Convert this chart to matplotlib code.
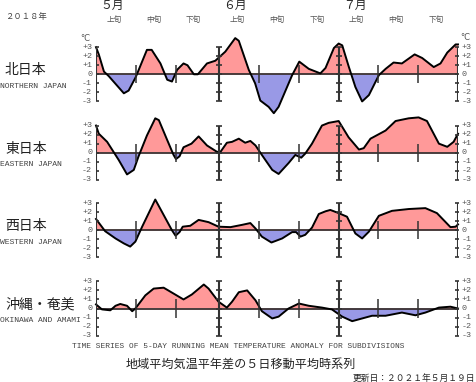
import matplotlib
matplotlib.use('Agg')
import matplotlib.pyplot as plt
import matplotlib.transforms as mtransforms

plt.rcParams['font.family'] = ['Noto Sans CJK JP', 'DejaVu Sans']

# days counted from May 1 (=0) to Jul 31 (=91), year 2018
month_labels = ['５月', '６月', '７月']
month_starts = [0, 31, 61]
last_day = 91
dekad_labels = ['上旬', '中旬', '下旬']

region_names = ['北日本', '東日本', '西日本', '沖縄・奄美']
region_names_en = ['NORTHERN JAPAN', 'EASTERN JAPAN', 'WESTERN JAPAN', 'OKINAWA AND AMAMI']

north_days = [0, 0.7, 2, 3.2, 7, 8.2, 10, 12.8, 14, 16.2, 17.9, 19.1, 20.4, 22, 23, 24.6, 25.6,
              27.9, 30, 32.5, 35, 35.9, 38.4, 40, 41.3, 43.4, 44.7, 45.9, 49.3, 51.1, 53.5,
              56.4, 57.7, 59.8, 61, 61.9, 63.5, 65.2, 66.9, 68.6, 71.1, 72.8, 74.8, 76.9,
              80.1, 82, 84.9, 86.6, 88.3, 90.4, 91]
north_vals = [3.0, 2.2, 0.3, -0.2, -2.1, -1.8, -0.3, 2.7, 2.7, 1.2, -0.6, -0.8, 0.5, 1.2, 1.0, 0.0, 0.0,
              1.2, 1.5, 2.5, 4.0, 3.7, 0.5, -1.0, -2.9, -3.6, -4.3, -3.6, -0.1, 1.4, 0.6,
              0.1, 0.7, 2.9, 3.4, 3.2, 0.9, -1.4, -3.0, -2.3, -0.1, 0.6, 1.3, 1.2,
              2.2, 1.8, 0.8, 1.2, 2.4, 3.3, 3.3]

east_days = [0, 0.7, 2.8, 4.4, 5.7, 7.8, 9.5, 10.7, 12.8, 14.9, 15.8, 17.9, 19.5, 20.1, 21, 22,
             24, 25.8, 27.9, 30.4, 31.3, 32.9, 34.2, 35.9, 37.5, 38.8, 40.1, 41.7, 44.3, 45.9,
             48.4, 50.1, 51.6, 52.6, 54.3, 56.8, 58.5, 61, 63.5, 66.1, 67.3, 69, 72.8, 75.3,
             78.6, 81.1, 83.2, 86.2, 88.3, 89.9, 91]
east_vals = [3.0, 2.1, 1.2, 0.1, -0.8, -2.4, -1.9, -0.4, 1.9, 3.8, 3.6, 1.4, -0.25, -0.7, -0.4, 0.6,
             1.0, 1.8, 0.8, 0.1, 0.1, 1.1, 1.2, 1.55, 1.1, 1.3, 0.8, -0.25, -1.9, -2.35,
             -1.15, -0.25, -0.55, -0.1, 1.0, 3.0, 3.3, 3.5, 1.7, 0.35, 0.5, 1.55, 2.45, 3.5,
             3.8, 3.9, 3.5, 1.0, 0.65, 1.2, 2.1]

west_days = [0, 2.3, 4.9, 7, 8.6, 9.9, 11.6, 14.9, 17, 19.1, 20, 21, 21.8, 23.7, 25.8, 28.3,
             30.8, 33.8, 36.7, 38.8, 40.1, 41.7, 44.1, 46.8, 49.3, 50.3, 51.4, 52.6, 54.3, 56,
             57.7, 58.9, 61, 63.1, 65.2, 66.9, 68.6, 71.1, 74.4, 78.6, 82.8, 85.7, 89.1, 90.4, 91]
west_vals = [1.25, -0.1, -0.9, -1.45, -1.8, -1.25, 0.4, 3.4, 1.7, 0.0, -0.6, -0.2, 0.4, 0.5, 1.15, 0.9,
             0.4, 0.35, 0.6, 0.8, 0.2, -0.7, -1.35, -0.9, -0.2, -0.2, -0.7, -0.5, 0.3, 1.8,
             2.1, 2.25, 1.9, 1.5, -0.35, -0.9, -0.15, 1.6, 2.15, 2.35, 2.45, 1.9, 0.35, 0.4, 0.65]

okinawa_days = [0, 1.5, 3.6, 4.9, 6.1, 7.8, 9.1, 9.9, 12.4, 14.5, 17, 19.5, 22, 24.1, 27.1, 28.3,
                30.8, 32.9, 34.2, 35.9, 38, 40.1, 41.7, 44.3, 45.9, 48.4, 51, 53.5, 56.8, 59.3,
                61.9, 64.4, 66.9, 69.4, 72.8, 76.9, 80.3, 82.8, 86.2, 89.1, 91]
okinawa_vals = [0.45, -0.1, -0.2, 0.3, 0.5, 0.3, -0.3, 0.0, 1.45, 2.2, 2.3, 1.65, 1.0, 1.55, 2.65, 2.2,
                0.75, 0.1, 0.75, 1.8, 2.0, 0.9, -0.3, -1.1, -0.9, 0.0, 0.55, 0.3, 0.1, -0.1,
                -0.9, -1.4, -1.1, -0.8, -0.8, -0.45, -0.75, -0.45, 0.1, 0.2, 0.0]

series = [(north_days, north_vals), (east_days, east_vals),
          (west_days, west_vals), (okinawa_days, okinawa_vals)]

W, H = 476, 382
fig = plt.figure(figsize=(W / 100, H / 100), dpi=100)

zero_rows = [74.3, 152.7, 230.3, 308.5]   # pixel row of the zero line
unit = 9.05                                # pixels per degree
left_px, width_px = 96, 362
pos_col = '#ff9999'
neg_col = '#9999e6'
dark = '#333333'
mono = 'Liberation Mono'

axes = []
for i, (days, vals) in enumerate(series):
    top = zero_rows[i] - 5 * unit
    ax = fig.add_axes([left_px / W, 1 - (top + 10 * unit) / H, width_px / W, 10 * unit / H])
    ax.set_xlim(0, last_day)
    ax.set_ylim(-5, 5)
    ax.axis('off')
    ax.patch.set_alpha(0)
    axes.append(ax)

    ax.fill_between(days, vals, 0, where=[v >= 0 for v in vals], interpolate=True,
                    color=pos_col, lw=0, clip_on=False)
    ax.fill_between(days, vals, 0, where=[v <= 0 for v in vals], interpolate=True,
                    color=neg_col, lw=0, clip_on=False)
    ax.axhline(0, color='#3a3030', lw=1.3, zorder=3)
    ax.plot(days, vals, color='black', lw=1.4, zorder=4, clip_on=False)

    # month boundaries with degree ticks
    for d in month_starts + [last_day]:
        ax.vlines(d, -3, 3, color=dark, lw=1.5, zorder=5)
        ax.plot([d] * 7, range(-3, 4), ls='none', marker='_', ms=5, mew=1.2, color=dark, zorder=5)
    # dekad ticks
    for m in month_starts:
        for k in (10, 20):
            ax.vlines(m + k, -1, 1, color=dark, lw=1.1, zorder=5)

    for v in range(-3, 4):
        lab = '0' if v == 0 else f'{v:+d}'
        ax.text(-1.0, v, lab, ha='right', va='center', fontsize=6, family=mono, color='#555555')
        ax.text(91.8, v, lab, ha='left', va='center', fontsize=6, family=mono, color='#555555')

    tr = mtransforms.blended_transform_factory(fig.transFigure, ax.transData)
    ax.text(5 / W, 0.45, region_names[i], transform=tr, ha='left', va='center',
            fontsize=10, color='#222222')
    ax.text(0 / W, -1.3, region_names_en[i], transform=tr, ha='left', va='center',
            fontsize=5.8, family=mono, color='#444444')

axes[0].text(-2.8, 3.95, '°C', ha='center', va='center', fontsize=6, family='DejaVu Sans', color='#555555')
axes[0].text(92.8, 4.05, '°C', ha='center', va='center', fontsize=6, family='DejaVu Sans', color='#555555')

top_tr = mtransforms.blended_transform_factory(axes[0].transData, fig.transFigure)
for m, lab in zip(month_starts, month_labels):
    axes[0].text(m + 4, 1 - 5 / H, lab, transform=top_tr, ha='center', va='center',
                 fontsize=8.5, color='#222222')
    for k, dl in enumerate(dekad_labels):
        axes[0].text(m + 10 * k + 4.5, 1 - 20 / H, dl, transform=top_tr, ha='center', va='center',
                     fontsize=5.5, color='#555555')

fig.text(5 / W, 1 - 17 / H, '２０１８年', ha='left', va='center', fontsize=6, color='#444444')
fig.text(238 / W, 1 - 347 / H,
         'TIME SERIES OF 5-DAY RUNNING MEAN TEMPERATURE ANOMALY FOR SUBDIVISIONS',
         ha='center', va='center', fontsize=5.7, family=mono, color='#444444')
fig.text(241 / W, 1 - 364 / H, '地域平均気温平年差の５日移動平均時系列',
         ha='center', va='center', fontsize=8.7, color='#222222')
fig.text(353 / W, 1 - 378 / H, '更新日：２０２１年５月１９日',
         ha='left', va='center', fontsize=6.3, color='#222222')

fig.savefig('out.png', dpi=100, facecolor='white')
